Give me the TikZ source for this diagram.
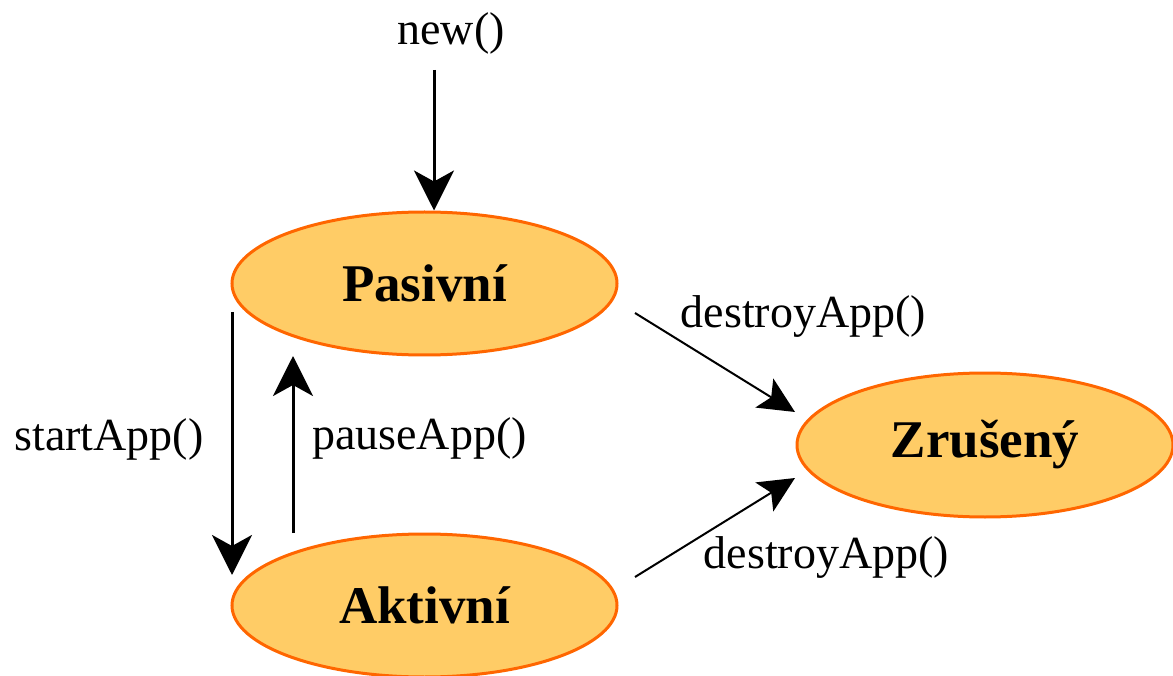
\documentclass[tikz,border=0pt]{standalone}
\usepackage{fontspec}
\setmainfont{Liberation Serif}
\usetikzlibrary{shapes.geometric,arrows.meta}
\definecolor{statefill}{HTML}{FFCC66}
\definecolor{stateline}{HTML}{FF6600}
\begin{document}
\begin{tikzpicture}[x=1pt,y=-1pt,
  state/.style={ellipse,draw=stateline,fill=statefill,line width=3pt,inner sep=0pt,
    minimum width=385pt,minimum height=143pt,font=\fontsize{53}{60}\selectfont\bfseries},
  lbl/.style={anchor=base,inner sep=0pt,font=\fontsize{46}{52}\selectfont},
  trans/.style={line width=3pt,-{Stealth[length=40pt,width=40pt,inset=11pt]}},
  dtrans/.style={line width=2pt,-{Stealth[length=36pt,width=34pt,inset=8pt]}}]
\useasboundingbox (0,0) rectangle (1173,676);
\node[state] (P) at (424.5,283.5) {Pasivní};
\node[state] (A) at (424.5,605.5) {Aktivní};
\node[state,minimum width=376pt,minimum height=144pt] (Z) at (985,445) {Zrušený};
\node[lbl] (lnew) at (451,45) {new()};
\node[lbl] (lstart) at (109,450) {startApp()};
\node[lbl] (lpause) at (419.5,449) {pauseApp()};
\node[lbl] (ld1) at (803.5,327) {destroyApp()};
\node[lbl] (ld2) at (826.5,568) {destroyApp()};
\coordinate (n0) at (434,70);
\coordinate (s0) at (232,312);
\coordinate (s1) at (232,575);
\coordinate (q0) at (293,533);
\coordinate (q1) at (293,356);
\coordinate (d1a) at (635,313);
\coordinate (d1b) at (795,412);
\coordinate (d2a) at (635,577);
\coordinate (d2b) at (795,478);
\draw[trans] (n0) -- (n0 |- P.north);
\draw[trans] (s0) -- (s1);
\draw[trans] (q0) -- (q1);
\draw[dtrans] (d1a) -- (d1b);
\draw[dtrans] (d2a) -- (d2b);
\end{tikzpicture}
\end{document}
